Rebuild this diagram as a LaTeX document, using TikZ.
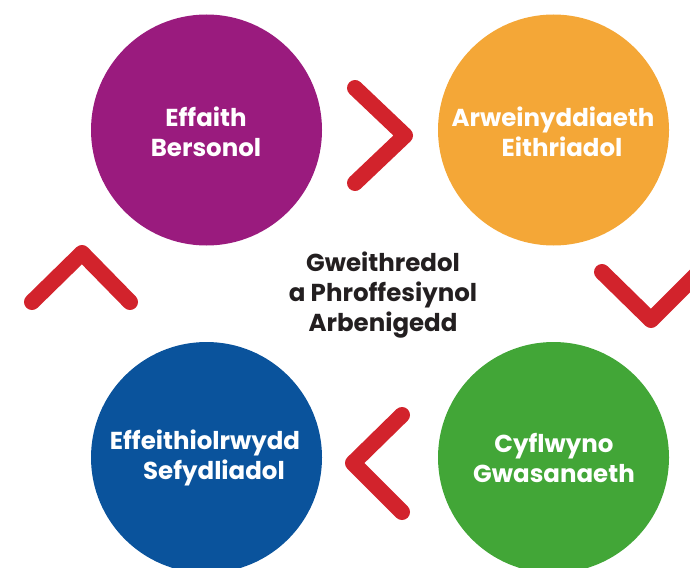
\documentclass[tikz,border=0pt]{standalone}
\usepackage{fontspec}
\setmainfont{Poppins}
\definecolor{cpurple}{HTML}{9A1B7E}
\definecolor{corange}{HTML}{F4A737}
\definecolor{cblue}{HTML}{0A539C}
\definecolor{cgreen}{HTML}{42A637}
\definecolor{cred}{HTML}{D2232C}
\definecolor{ctext}{HTML}{231F20}
\begin{document}
\begin{tikzpicture}[x=1pt,y=-1pt,
  disc/.style={circle,minimum size=231pt,inner sep=0pt},
  lbl/.style={text=white,font=\fontsize{24.5}{30}\selectfont\bfseries,align=center},
  chev/.style={draw=cred,line width=16pt,line cap=round,line join=round}]
\useasboundingbox (0,0) rectangle (690,567);
\clip (0,0) rectangle (690,567);
\node[disc,fill=cpurple] (p) at (206.5,130) {};
\node[disc,fill=corange] (o) at (553.5,130) {};
\node[disc,fill=cblue] (b) at (206.5,457.5) {};
\node[disc,fill=cgreen] (g) at (553.5,457.5) {};
\node[lbl] (pt) at (206,132) {Effaith\\Bersonol};
\node[lbl] (ot) at (553,132) {Arweinyddiaeth\\\hspace*{18pt}Eithriadol};
\node[lbl] (bt) at (205,458) {Effeithiolrwydd\\\hspace*{18pt}Sefydliadol};
\node[lbl] (gt) at (554,458) {Cyflwyno\\Gwasanaeth};
\node[text=ctext,font=\fontsize{24.5}{30}\selectfont\bfseries,align=center] (c) at (383,295) {Gweithredol\\a Phroffesiynol\\Arbenigedd};
\draw[chev] (355,88) -- (405,135.5) -- (355,183);
\draw[chev] (602,272) -- (651,320) -- (700,271);
\draw[chev] (402,415) -- (353,463) -- (402,512);
\draw[chev] (32,302) -- (82,253) -- (130,302);
\end{tikzpicture}
\end{document}
